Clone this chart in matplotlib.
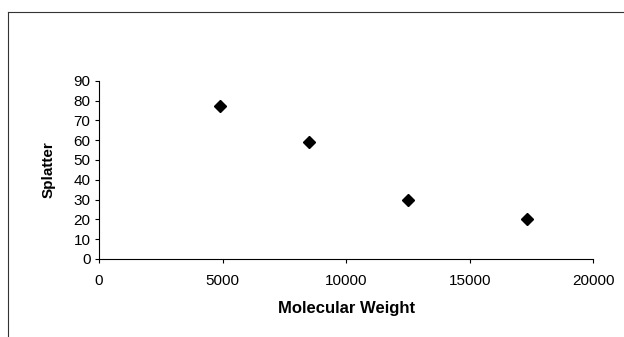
import matplotlib
matplotlib.use("Agg")
from matplotlib import pyplot as plt
from matplotlib.lines import Line2D

molecular_weight = [4900, 8500, 12500, 17300]
splatter = [77, 59, 30, 20]
x_ticks = [0, 5000, 10000, 15000, 20000]
y_ticks = [0, 10, 20, 30, 40, 50, 60, 70, 80, 90]

plt.rcParams["font.family"] = ["Liberation Sans", "DejaVu Sans"]

fig = plt.figure(figsize=(6.24, 3.37), dpi=100)
ax = fig.add_axes([98.9 / 624, 1 - 259 / 337, (593.3 - 98.9) / 624, (259 - 80.7) / 337])

ax.plot(molecular_weight, splatter, linestyle="none", marker="D",
        markersize=6.6, color="black")

ax.set_xlim(0, 20000)
ax.set_ylim(0, 90)
ax.set_xticks(x_ticks)
ax.set_yticks(y_ticks)
ax.tick_params(direction="out", length=3, width=0.8, labelsize=11, color="black")
ax.tick_params(axis="x", pad=8)
ax.tick_params(axis="y", pad=3)

for side in ["top", "right"]:
    ax.spines[side].set_visible(False)
for side in ["left", "bottom"]:
    ax.spines[side].set_linewidth(0.8)

ax.set_xlabel("Molecular Weight", fontsize=12, fontweight="bold", labelpad=9)
ax.set_ylabel("Splatter", fontsize=11, fontweight="bold", labelpad=13)

# outer chart frame, cut off at right and bottom
fx = 7.5 / 624
fy = 1 - 11.5 / 337
fig.add_artist(Line2D([fx, fx], [0, fy], color="#333333", linewidth=0.8))
fig.add_artist(Line2D([fx, 1], [fy, fy], color="#333333", linewidth=0.8))

fig.savefig("out.png", dpi=100)
